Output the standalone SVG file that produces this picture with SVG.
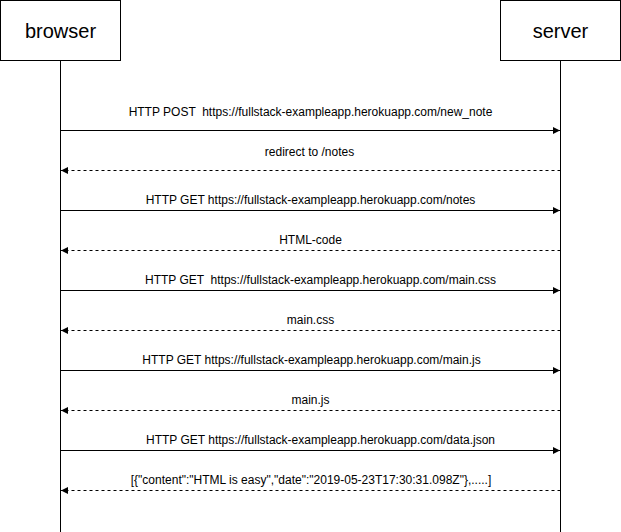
<svg xmlns="http://www.w3.org/2000/svg" width="621" height="532" viewBox="0 0 621 532">
<style>
.box{fill:#fff;stroke:#000;stroke-width:1}
.life{stroke:#000;stroke-width:1;fill:none}
.msg{stroke:#000;stroke-width:1;fill:none}
.ret{stroke:#000;stroke-width:1;fill:none;stroke-dasharray:3 3}
.lbl{font-family:"Liberation Sans",Arial,sans-serif;font-size:12px;fill:#000;text-anchor:middle}
.title{font-family:"Liberation Sans",Arial,sans-serif;font-size:20px;fill:#000;text-anchor:middle}
</style>
<defs>
<marker id="arrR" markerUnits="userSpaceOnUse" markerWidth="8" markerHeight="8" refX="7" refY="4" orient="auto" viewBox="0 0 8 8">
<path d="M0,0.5 L7,4 L0,7.5 Z" fill="#000"/>
</marker>
</defs>
<rect width="621" height="532" fill="#fff"/>
<g id="browser">
<rect class="box" x="0.5" y="0.5" width="120" height="60"/>
<text class="title" x="60.5" y="38">browser</text>
<line class="life" x1="60.5" y1="60.5" x2="60.5" y2="532"/>
</g>
<g id="server">
<rect class="box" x="500.5" y="0.5" width="120" height="60"/>
<text class="title" x="560.5" y="38">server</text>
<line class="life" x1="560.5" y1="60.5" x2="560.5" y2="532"/>
</g>
<g id="connectors">
<line class="msg" x1="60.5" y1="130.5" x2="560" y2="130.5" marker-end="url(#arrR)"/>
<line class="ret" x1="560.5" y1="170.5" x2="61" y2="170.5" marker-end="url(#arrR)"/>
<line class="msg" x1="60.5" y1="210.5" x2="560" y2="210.5" marker-end="url(#arrR)"/>
<line class="ret" x1="560.5" y1="250.5" x2="61" y2="250.5" marker-end="url(#arrR)"/>
<line class="msg" x1="60.5" y1="290.5" x2="560" y2="290.5" marker-end="url(#arrR)"/>
<line class="ret" x1="560.5" y1="330.5" x2="61" y2="330.5" marker-end="url(#arrR)"/>
<line class="msg" x1="60.5" y1="370.5" x2="560" y2="370.5" marker-end="url(#arrR)"/>
<line class="ret" x1="560.5" y1="410.5" x2="61" y2="410.5" marker-end="url(#arrR)"/>
<line class="msg" x1="60.5" y1="450.5" x2="560" y2="450.5" marker-end="url(#arrR)"/>
<line class="ret" x1="560.5" y1="490.5" x2="61" y2="490.5" marker-end="url(#arrR)"/>
<text class="lbl" x="310.5" y="116" xml:space="preserve">HTTP POST  https://fullstack-exampleapp.herokuapp.com/new_note</text>
<text class="lbl" x="309.5" y="156">redirect to /notes</text>
<text class="lbl" x="310.5" y="204">HTTP GET https://fullstack-exampleapp.herokuapp.com/notes</text>
<text class="lbl" x="310.5" y="244">HTML-code</text>
<text class="lbl" x="320.5" y="284" xml:space="preserve">HTTP GET  https://fullstack-exampleapp.herokuapp.com/main.css</text>
<text class="lbl" x="310.5" y="324">main.css</text>
<text class="lbl" x="311.5" y="364">HTTP GET https://fullstack-exampleapp.herokuapp.com/main.js</text>
<text class="lbl" x="310.5" y="404">main.js</text>
<text class="lbl" x="320.5" y="444">HTTP GET https://fullstack-exampleapp.herokuapp.com/data.json</text>
<text class="lbl" x="311" y="484">[{"content":"HTML is easy","date":"2019-05-23T17:30:31.098Z"},.....]</text>
</g>
</svg>
